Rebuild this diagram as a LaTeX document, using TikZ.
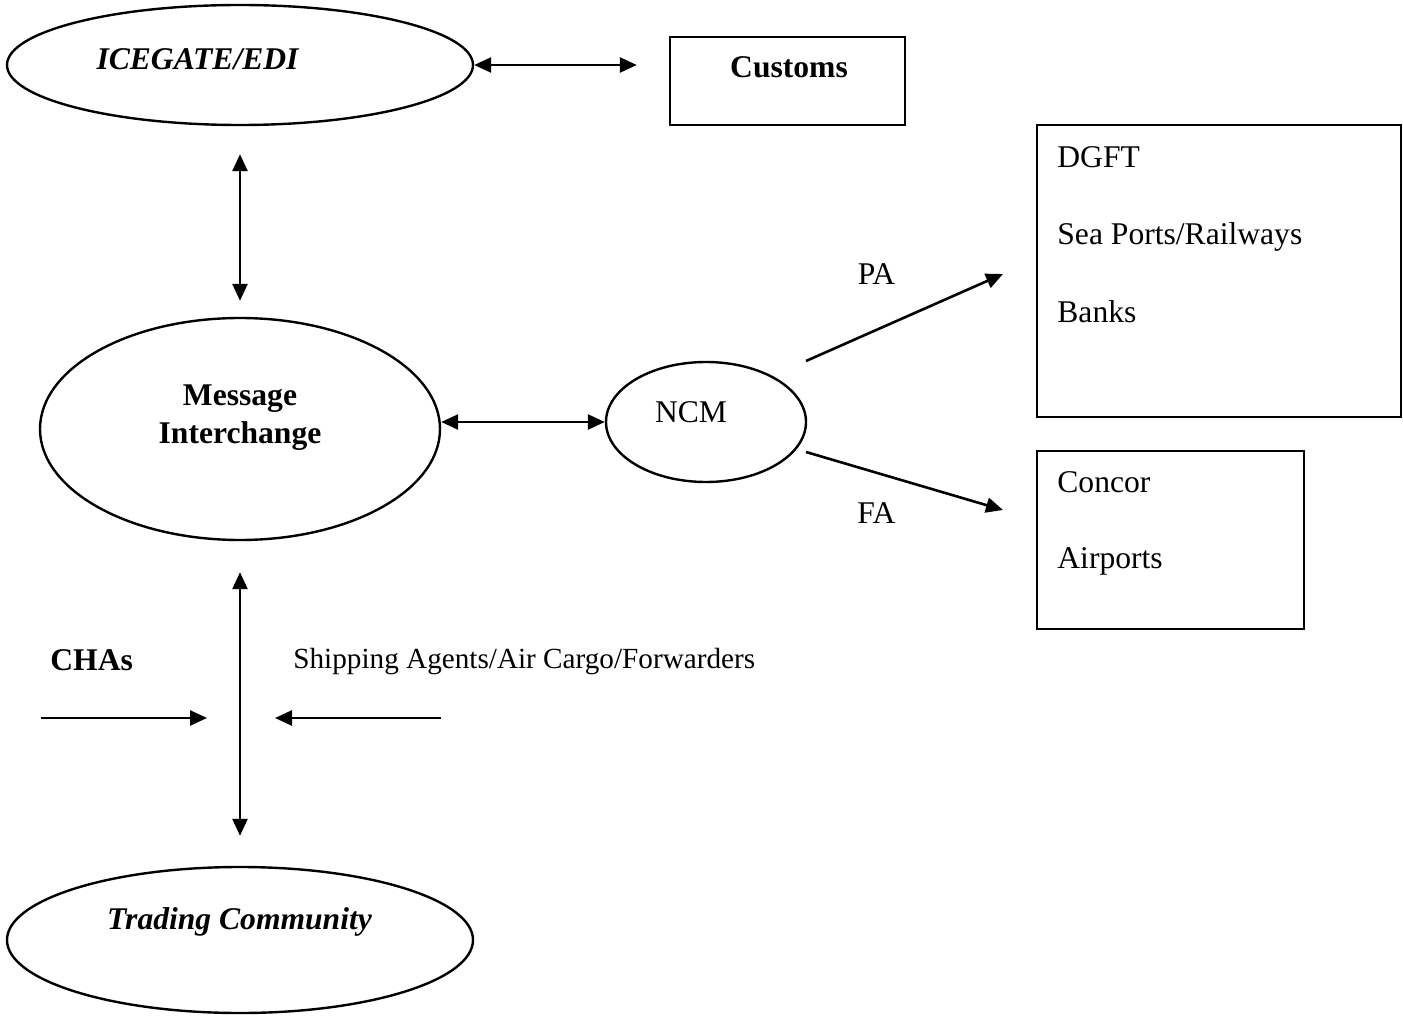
\documentclass[tikz,border=0pt]{standalone}
\usepackage{fontspec}
\setmainfont{Liberation Serif}
\usetikzlibrary{shapes.geometric,arrows.meta}
\begin{document}
\begin{tikzpicture}[x=0.5pt,y=-0.5pt,
  oval/.style={draw,ellipse,inner sep=0pt,line width=1.2pt},
  boxnode/.style={draw,rectangle,inner sep=0pt,line width=1.2pt},
  lbl/.style={inner sep=0pt,font=\fontsize{15.8}{19}\selectfont},
  bl/.style={inner sep=0pt,font=\fontsize{15.8}{19}\selectfont\bfseries},
  bi/.style={inner sep=0pt,font=\fontsize{15.8}{19}\selectfont\bfseries\itshape},
  small/.style={inner sep=0pt,font=\fontsize{14.6}{17}\selectfont},
  tip/.tip={Triangle[length=8.5pt,width=7.5pt]},
  conn/.style={line width=1.3pt,-tip},
  dconn/.style={line width=1.3pt,tip-tip},
]
\useasboundingbox (0,0) rectangle (1403,1016);

% shapes
\node[oval,minimum width=233pt,minimum height=60pt] (ice) at (240,65) {};
\node[boxnode,minimum width=117.5pt,minimum height=44pt] (cus) at (787.5,81) {};
\node[oval,minimum width=200pt,minimum height=111pt] (msg) at (240,429) {};
\node[oval,minimum width=100pt,minimum height=60pt] (ncm) at (706,422) {};
\node[boxnode,minimum width=182pt,minimum height=146pt] (dgft) at (1219,271) {};
\node[boxnode,minimum width=133.5pt,minimum height=89pt] (concor) at (1170.5,540) {};
\node[oval,minimum width=233pt,minimum height=73pt] (trade) at (240,940) {};

% texts
\node[bi,anchor=base] (icetxt) at (197.5,70) {ICEGATE/EDI};
\node[bl,anchor=base] (custxt) at (789,78) {Customs};
\node[bl,anchor=base] (msgtxt1) at (240,405) {Message};
\node[bl,anchor=base] (msgtxt2) at (240,443) {Interchange};
\node[lbl,anchor=base] (ncmtxt) at (691,422) {NCM};
\node[lbl,anchor=base] (patxt) at (876.5,285) {PA};
\node[lbl,anchor=base] (fatxt) at (876.5,523) {FA};
\node[lbl,anchor=base west] (dg1) at (1057,168) {DGFT};
\node[lbl,anchor=base west] (dg2) at (1057,245) {Sea Ports/Railways};
\node[lbl,anchor=base west] (dg3) at (1057,322) {Banks};
\node[lbl,anchor=base west] (cc1) at (1057,492) {Concor};
\node[lbl,anchor=base west] (cc2) at (1057,568) {Airports};
\node[bl,anchor=base west] (chas) at (50,670) {CHAs};
\node[small,anchor=base west] (ship) at (293,668) {Shipping Agents/Air Cargo/Forwarders};
\node[bi,anchor=base] (tradetxt) at (239.5,929) {Trading Community};

% connector end points
\coordinate (pa0) at (806,361);
\coordinate (pa1) at (1003,274);
\coordinate (fa0) at (806,452);
\coordinate (fa1) at (1003,510);
\coordinate (ch0) at (41,718);
\coordinate (ch1) at (207,718);
\coordinate (sa0) at (441,718);
\coordinate (sa1) at (275,718);

% connectors
\draw[dconn,shorten >=16pt] (ice.east) -- (ice.east -| cus.west);
\draw[dconn,shorten <=14pt,shorten >=8pt] (ice.south) -- (msg.north);
\draw[dconn] (msg.east |- ncm.west) -- (ncm.west);
\draw[conn] (pa0) -- (pa1);
\draw[conn] (fa0) -- (fa1);
\draw[dconn,shorten <=15.5pt,shorten >=15pt] (msg.south) -- (trade.north);
\draw[conn] (ch0) -- (ch1);
\draw[conn] (sa0) -- (sa1);
\end{tikzpicture}
\end{document}
